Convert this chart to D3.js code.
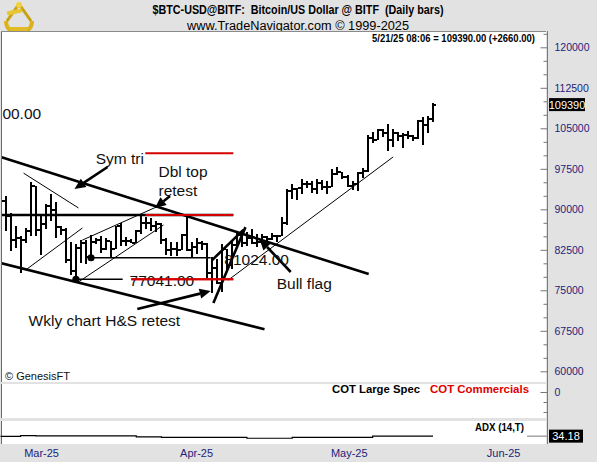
<!DOCTYPE html>
<html>
<head>
<meta charset="utf-8">
<script src="https://cdn.jsdelivr.net/npm/d3@7"></script>
<style>
  body { margin: 0; background: #e2e2e2; }
  svg { display: block; }
  text { white-space: pre; }
</style>
</head>
<body>
<svg id="chart" width="597" height="462"></svg>
<script>
// ---- Daily bars, 24 Feb 2025 – 21 May 2025 ----
const firstDay = new Date(2025, 1, 24);
const lastDay = new Date(2025, 4, 21);
const barOpen = [96250, 91550, 88700, 84250, 84700, 84350, 86050, 94250, 86100, 87200,
  90600, 89950, 86700, 86150, 80700, 78500, 82900, 83700, 81100, 84000,
  84350, 82600, 84050, 82700, 86850, 84200, 84050, 83850, 86050, 87500,
  87450, 86900, 87200, 84350, 82400, 82650, 82550, 85150, 82500, 83100,
  83850, 83500, 78200, 79200, 76300, 82600, 79600, 83400, 85300, 83700,
  84600, 83700, 84000, 84900, 84500, 85100, 85100, 87500, 93400, 93700,
  93900, 94700, 94600, 93700, 94900, 94200, 94200, 96500, 96900, 95900,
  94300, 94700, 96800, 97000, 103200, 102900, 104600, 104100, 102800, 104100,
  103500, 103700, 103500, 103200, 106400, 105600, 106730];
const barHigh = [96500, 92500, 89300, 87000, 85100, 86500, 95000, 94400, 88900, 90900,
  92800, 91300, 86900, 86500, 84000, 83600, 84400, 84300, 85300, 84700,
  85000, 84700, 84100, 87000, 87400, 84800, 84500, 86100, 88800, 88500,
  88300, 87800, 87500, 84600, 83900, 83900, 85500, 88500, 83900, 84700,
  84200, 83700, 81200, 80800, 83500, 82700, 84200, 85800, 86100, 85800,
  86400, 85500, 85400, 85100, 85600, 85300, 88500, 93800, 94700, 94000,
  95700, 95300, 95300, 95600, 95500, 95200, 97400, 97900, 96900, 96300,
  95200, 96900, 97700, 103700, 104300, 104900, 104900, 105800, 104900, 104300,
  104100, 104500, 103700, 106600, 107100, 107300, 109600];
const barLow = [91350, 86050, 82300, 82800, 78200, 83800, 85000, 85100, 81500, 86300,
  87800, 84700, 85200, 80000, 77800, 77041, 80000, 79900, 81024, 83600,
  82000, 82500, 81200, 82600, 83200, 83200, 83700, 83700, 85500, 86300,
  85900, 85800, 83600, 81600, 81300, 81300, 82400, 82300, 81200, 81700,
  82400, 77200, 74500, 76200, 74600, 78500, 78900, 82800, 83000, 83200,
  83600, 83100, 83800, 84200, 84400, 83900, 85100, 87100, 91900, 91700,
  92900, 93900, 93000, 92800, 93600, 92900, 94100, 96300, 95700, 94200,
  93500, 93400, 95800, 96900, 102300, 102800, 103300, 100800, 101500, 102600,
  101400, 103100, 102600, 103100, 102000, 104200, 106200];
const barClose = [91550, 88700, 84250, 84700, 84350, 86050, 94250, 86100, 87200, 90600,
  89950, 86700, 86150, 80700, 78500, 82900, 83700, 81100, 84000, 84350,
  82600, 84050, 82700, 86850, 84200, 84050, 83850, 86050, 87500, 87450,
  86900, 87200, 84350, 82400, 82650, 82550, 85150, 82500, 83100, 83850,
  83500, 78200, 79200, 76300, 82600, 79600, 83400, 85300, 83700, 84600,
  83700, 84000, 84900, 84500, 85100, 85100, 87500, 93400, 93700, 93900,
  94700, 94600, 93700, 94900, 94200, 94200, 96500, 96900, 95900, 94300,
  94700, 96800, 97000, 103200, 102900, 104600, 104100, 102800, 104100, 103500,
  103700, 103500, 103200, 106400, 105600, 106730, 109390];

// ---- Axis ticks ----
const priceTicks = [60000, 67500, 75000, 82500, 90000, 97500, 105000, 112500, 120000];
const monthTicks = ["2025-03-01", "2025-04-01", "2025-05-01", "2025-06-01"];

// ---- ADX(14) panel ----
const adxDates = ["2025-02-24", "2025-02-28", "2025-03-03", "2025-03-23", "2025-03-28",
  "2025-04-14", "2025-04-23", "2025-05-09", "2025-05-21"];
const adxValues = [33, 36, 35, 31, 29, 25, 28.5, 34.18, 34.18];

// ---- Drawn studies (date, price) ----
const thickLines = [
  [["2025-02-23 00:00", 100000], ["2025-05-08 05:00", 78000]],
  [["2025-02-23 00:00", 80300], ["2025-04-17 12:00", 67800]],
  [["2025-02-23 00:00", 88950], ["2025-04-11 07:00", 88950]],
  [["2025-04-07 02:00", 80600], ["2025-04-13 07:00", 86200]],
  [["2025-04-07 08:00", 72650], ["2025-04-13 17:00", 86700]]
];
const thinLines = [
  [["2025-02-28 14:00", 96700], ["2025-03-11 12:00", 90250]],
  [["2025-03-01 00:00", 78760], ["2025-03-12 07:00", 86540]],
  [["2025-03-12 07:00", 84300], ["2025-03-27 10:00", 90600]],
  [["2025-03-11 12:00", 76540], ["2025-03-28 10:00", 87090]],
  [["2025-04-10 07:00", 76900], ["2025-05-13 02:00", 99700]]
];
const redLines = [
  [["2025-03-24 19:00", 100400], ["2025-04-11 07:00", 100400]],
  [["2025-03-24 19:00", 88950], ["2025-04-11 07:00", 88950]],
  [["2025-03-22 00:00", 77041], ["2025-04-11 07:00", 77041]]
];
// price markers: bar index, line end, label position
const markers = [
  { bar: 15, lineEnd: "2025-03-20 07:00", label: ["2025-03-21 16:00", 75800] },
  { bar: 18, lineEnd: "2025-04-06 19:00", label: ["2025-04-09 12:00", 79685] }
];
const arrows = [
  [["2025-03-17 07:00", 97830], ["2025-03-10 17:00", 93760]],
  [["2025-03-29 17:00", 92460], ["2025-03-26 17:00", 90240]],
  [["2025-03-23 05:00", 71540], ["2025-04-06 19:00", 74870]],
  [["2025-04-22 17:00", 78390], ["2025-04-16 12:00", 84500]]
];
const notes = [
  { text: "Sym tri", at: ["2025-03-14 22:00", 98390] },
  { text: "Dbl top", at: ["2025-03-27 10:00", 95980] },
  { text: "retest", at: ["2025-03-27 10:00", 92460] },
  { text: "Bull flag", at: ["2025-04-19 22:00", 75240] },
  { text: "Wkly chart H&S retest", at: ["2025-03-01 14:00", 68390] },
  { text: "00.00", at: ["2025-02-24 09:00", 106630] }
];

// ---- Layout ----
const W = 597, H = 462;
const panelL = 1, panelR = 546, axisX = 547;
const mainTop = 31, mainBot = 382;
const cotTop = 384, cotBot = 418;
const adxTop = 421, adxBot = 444;
const SANS = "'Liberation Sans', Arial, Helvetica, sans-serif";
const NAVY = "#22227a";

const parseT = d3.timeParse("%Y-%m-%d %H:%M");
const parseD = d3.timeParse("%Y-%m-%d");
const pdate = s => s.length > 10 ? parseT(s) : parseD(s);

const dates = d3.timeDay.range(firstDay, d3.timeDay.offset(lastDay, 1));
const bars = dates.map((d, i) => ({ d, o: barOpen[i], h: barHigh[i], l: barLow[i], c: barClose[i] }));

const x = d3.scaleTime().domain([firstDay, lastDay]).range([0.5, 433]);
const y = d3.scaleLinear().domain([60000, 120000]).range([371.3, 47.3]);
const yCot = d3.scaleLinear().domain([-26000, 8000]).range([cotBot, cotTop]);
const yAdx = d3.scaleLinear().domain([0, 100]).range([adxBot, adxTop]);
const P = p => [x(pdate(p[0])), y(p[1])];

const svg = d3.select("#chart");
svg.append("rect").attr("width", W).attr("height", H).attr("fill", "#e2e2e2");

// ---- Title block ----
const logo = svg.append("g").attr("transform", "translate(3,2)");
logo.append("path").attr("d", "M3,19 A13,13 0 0 0 29,19").attr("fill", "none")
  .attr("stroke", "#d9b21c").attr("stroke-width", 4);
logo.append("path").attr("d", "M16,2 L4,19 M16,2 L28,19").attr("stroke", "#c9a010").attr("stroke-width", 3);
logo.append("rect").attr("x", 4).attr("y", 8).attr("width", 15).attr("height", 4)
  .attr("fill", "#e8c531").attr("transform", "rotate(-12,11,10)");
logo.append("path").attr("d", "M5,25 L27,25 L23,30 L9,30 Z").attr("fill", "#e0bb26");
logo.append("circle").attr("cx", 16).attr("cy", 3).attr("r", 3).attr("fill", "#f0d040");

svg.append("text").attr("x", 298).attr("y", 14).attr("text-anchor", "middle")
  .attr("font-family", SANS).attr("font-weight", "bold").attr("font-size", 12)
  .attr("textLength", 291).attr("lengthAdjust", "spacingAndGlyphs").attr("fill", "#000")
  .text("$BTC-USD@BITF:  Bitcoin/US Dollar @ BITF  (Daily bars)");
svg.append("text").attr("x", 298).attr("y", 29.5).attr("text-anchor", "middle")
  .attr("font-family", SANS).attr("font-size", 12.5)
  .attr("textLength", 222).attr("lengthAdjust", "spacingAndGlyphs").attr("fill", "#000")
  .text("www.TradeNavigator.com © 1999-2025");

// ---- Panels ----
[[mainTop, mainBot], [cotTop, cotBot], [adxTop, adxBot]].forEach(([t, b]) => {
  svg.append("rect").attr("x", panelL).attr("y", t).attr("width", panelR - panelL).attr("height", b - t)
    .attr("fill", "#fff");
  svg.append("line").attr("x1", panelL + 0.5).attr("x2", panelL + 0.5).attr("y1", t).attr("y2", b)
    .attr("stroke", "#6a6a6a");
});
svg.append("line").attr("x1", panelL).attr("x2", panelR).attr("y1", mainTop + 0.5).attr("y2", mainTop + 0.5)
  .attr("stroke", "#8a8a8a");
svg.append("line").attr("x1", axisX + 0.5).attr("x2", axisX + 0.5).attr("y1", mainTop).attr("y2", adxBot)
  .attr("stroke", "#7a7a7a");

svg.append("clipPath").attr("id", "mainClip").append("rect")
  .attr("x", panelL + 1).attr("y", mainTop + 1).attr("width", panelR - panelL - 1).attr("height", mainBot - mainTop - 1);
const plot = svg.append("g").attr("clip-path", "url(#mainClip)");

// ---- Right price axis ----
const minorTicks = d3.range(57500, 125001, 2500).filter(v => !priceTicks.includes(v) && y(v) > mainTop && y(v) < mainBot);
const minorAxis = svg.append("g").attr("transform", `translate(${axisX + 0.5},0)`)
  .call(d3.axisRight(y).tickValues(minorTicks).tickSizeInner(-4).tickSizeOuter(0).tickFormat(""));
minorAxis.select(".domain").remove();
minorAxis.selectAll("line").attr("stroke", "#777");
const priceAxis = svg.append("g").attr("transform", `translate(${axisX + 0.5},0)`)
  .call(d3.axisRight(y).tickValues(priceTicks).tickSizeInner(-7).tickSizeOuter(0).tickPadding(7)
    .tickFormat(d3.format("d")));
priceAxis.select(".domain").remove();
priceAxis.selectAll("line").attr("stroke", "#777");
priceAxis.selectAll("text").attr("font-family", SANS).attr("font-size", 10.5).attr("fill", NAVY);

// ---- OHLC bars ----
const g = plot.append("g").attr("shape-rendering", "crispEdges").attr("fill", "#000");
bars.forEach(b => {
  const cx = Math.round(x(b.d));
  g.append("rect").attr("x", cx - 1).attr("y", y(b.h)).attr("width", 2).attr("height", Math.max(1, y(b.l) - y(b.h)));
  g.append("rect").attr("x", cx - 3).attr("y", Math.round(y(b.o)) - 1).attr("width", 2).attr("height", 2);
  g.append("rect").attr("x", cx + 1).attr("y", Math.round(y(b.c)) - 1).attr("width", 2).attr("height", 2);
});

// ---- Studies ----
const seg = (grp, pts, w, col) => {
  const a = P(pts[0]), b = P(pts[1]);
  grp.append("line").attr("x1", a[0]).attr("y1", a[1]).attr("x2", b[0]).attr("y2", b[1])
    .attr("stroke", col).attr("stroke-width", w);
};
thinLines.forEach(l => seg(plot, l, 1, "#000"));
thickLines.forEach(l => seg(plot, l, 2.6, "#000"));
markers.forEach(m => {
  const px = x(bars[m.bar].d), py = y(bars[m.bar].l);
  plot.append("line").attr("x1", px).attr("x2", x(pdate(m.lineEnd))).attr("y1", py).attr("y2", py)
    .attr("stroke", "#000").attr("stroke-width", 1.6);
  plot.append("circle").attr("cx", px).attr("cy", py).attr("r", 3.6).attr("fill", "#000");
});
redLines.forEach(l => seg(plot, l, 2, "#d40000"));

arrows.forEach(([tail, tip]) => {
  const [x1, y1] = P(tail), [x2, y2] = P(tip);
  const ang = Math.atan2(y2 - y1, x2 - x1), len = 11, half = 5;
  const bx = x2 - len * Math.cos(ang), by = y2 - len * Math.sin(ang);
  const nx = -Math.sin(ang) * half, ny = Math.cos(ang) * half;
  plot.append("line").attr("x1", x1).attr("y1", y1).attr("x2", bx).attr("y2", by)
    .attr("stroke", "#000").attr("stroke-width", 2.6);
  plot.append("path").attr("d", `M${x2},${y2}L${bx + nx},${by + ny}L${bx - nx},${by - ny}Z`).attr("fill", "#000");
});

const noteText = (txt, at, anchor) => {
  const [tx, ty] = P(at);
  plot.append("text").attr("x", tx).attr("y", ty).attr("text-anchor", anchor || "start")
    .attr("font-family", SANS).attr("font-size", 15.5).attr("fill", "#111").text(txt);
};
notes.forEach(n => noteText(n.text, n.at, n.anchor));
markers.forEach(m => noteText(d3.format(".2f")(bars[m.bar].l), m.label));
// the red level runs through its price label
seg(plot, redLines[2], 2, "#d40000");

// ---- Last price ----
const last = bars[bars.length - 1], prev = bars[bars.length - 2];
svg.append("text").attr("x", 535).attr("y", 42).attr("text-anchor", "end")
  .attr("font-family", SANS).attr("font-weight", "bold").attr("font-size", 11)
  .attr("textLength", 163).attr("lengthAdjust", "spacingAndGlyphs")
  .text(`5/21/25 08:06 = ${d3.format(".2f")(last.c)} (+${d3.format(".2f")(last.c - prev.c)})`);
const ly = y(last.c);
svg.append("rect").attr("x", 549).attr("y", ly - 6.5).attr("width", 36).attr("height", 13).attr("fill", "#000");
svg.append("text").attr("x", 567).attr("y", ly + 4).attr("text-anchor", "middle")
  .attr("font-family", SANS).attr("font-size", 11).attr("fill", "#fff").text(d3.format("d")(last.c));

svg.append("text").attr("x", 5).attr("y", 379.5).attr("font-family", SANS).attr("font-size", 11)
  .attr("fill", "#111").text("© GenesisFT");

// ---- COT panel ----
svg.append("text").attr("x", 420).attr("y", 393).attr("text-anchor", "end")
  .attr("font-family", SANS).attr("font-weight", "bold").attr("font-size", 11.5)
  .attr("textLength", 88).attr("lengthAdjust", "spacingAndGlyphs").attr("fill", "#000").text("COT Large Spec");
svg.append("text").attr("x", 529).attr("y", 393).attr("text-anchor", "end")
  .attr("font-family", SANS).attr("font-weight", "bold").attr("font-size", 11.5)
  .attr("textLength", 99).attr("lengthAdjust", "spacingAndGlyphs").attr("fill", "#e00000").text("COT Commercials");
const cotAxis = svg.append("g").attr("transform", `translate(${axisX + 0.5},0)`)
  .call(d3.axisRight(yCot).tickValues([0]).tickSizeInner(-7).tickSizeOuter(0).tickPadding(7));
cotAxis.select(".domain").remove();
cotAxis.selectAll("line").attr("stroke", "#777");
cotAxis.selectAll("text").attr("font-family", SANS).attr("font-size", 10.5).attr("fill", NAVY);
const cotMinor = svg.append("g").attr("transform", `translate(${axisX + 0.5},0)`)
  .call(d3.axisRight(yCot).tickValues([-20000, -10000]).tickSizeInner(-4).tickSizeOuter(0).tickFormat(""));
cotMinor.select(".domain").remove();
cotMinor.selectAll("line").attr("stroke", "#777");

// ---- ADX panel ----
const adxPts = adxDates.map((d, i) => [x(pdate(d)), yAdx(adxValues[i])]);
svg.append("path").attr("d", d3.line().curve(d3.curveStepAfter)(adxPts))
  .attr("fill", "none").attr("stroke", "#000").attr("stroke-width", 1.2);
svg.append("text").attr("x", 524).attr("y", 431).attr("text-anchor", "end")
  .attr("font-family", SANS).attr("font-weight", "bold").attr("font-size", 11.5)
  .attr("textLength", 49).attr("lengthAdjust", "spacingAndGlyphs").attr("fill", "#000").text("ADX (14,T)");
const adxLast = adxValues[adxValues.length - 1];
svg.append("line").attr("x1", 527).attr("x2", axisX).attr("y1", yAdx(adxLast)).attr("y2", yAdx(adxLast))
  .attr("stroke", "#777");
svg.append("rect").attr("x", 549).attr("y", yAdx(adxLast) - 6.5).attr("width", 34).attr("height", 13).attr("fill", "#000");
svg.append("text").attr("x", 566).attr("y", yAdx(adxLast) + 4).attr("text-anchor", "middle")
  .attr("font-family", SANS).attr("font-size", 11).attr("fill", "#fff").text(d3.format(".2f")(adxLast));

// ---- Month axis ----
const monthAxis = svg.append("g").attr("transform", `translate(0,${adxBot})`)
  .call(d3.axisBottom(x).tickValues(monthTicks.map(pdate)).tickSize(0).tickPadding(3)
    .tickFormat(d3.timeFormat("%b-%y")));
monthAxis.select(".domain").remove();
monthAxis.selectAll("text").attr("text-anchor", "start").attr("dx", -2).attr("dy", "0.95em")
  .attr("font-family", SANS).attr("font-size", 11).attr("fill", NAVY);
</script>
</body>
</html>
